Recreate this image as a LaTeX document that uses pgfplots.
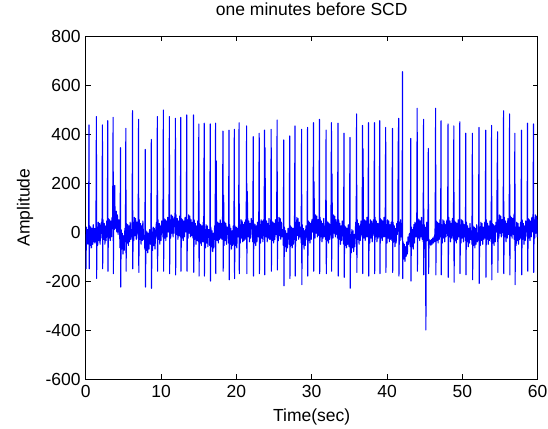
\documentclass[border=0pt]{standalone}
\usepackage{fontspec}
\setmainfont{Liberation Sans}
\usepackage{pgfplots}
\pgfplotsset{compat=1.18}
\definecolor{mblue}{rgb}{0,0,1}

\begin{document}
\begin{tikzpicture}
\path[use as bounding box] (0,0) rectangle (548bp,429bp);
\begin{axis}[
    at={(85.7bp,50bp)}, anchor=south west,
    width=452bp, height=343bp, scale only axis,
    xmin=0, xmax=60, ymin=-600, ymax=800,
    xtick={0,10,...,60}, ytick={-600,-400,...,800},
    tick align=inside, tick pos=both, major tick length=5bp,
    axis line style={black, line width=0.6bp},
    every tick/.style={black, line width=0.6bp},
    font=\fontsize{17.5bp}{21bp}\selectfont,
    /pgf/number format/assume math mode=true,
    xticklabel style={yshift=-3bp},
    yticklabel style={xshift=-1.5bp},
    title={one minutes before SCD},
    title style={at={(axis description cs:0.5,1.06)}, anchor=center},
    xlabel={Time(sec)},
    xlabel style={at={(axis description cs:0.5,-0.111)}, anchor=center},
    ylabel={Amplitude},
    every axis y label/.style={at={(axis description cs:-0.134,0.5)}, rotate=90, anchor=center},
]
% ECG trace, one beat per line
\addplot[mblue, line width=1.1bp, line join=round, mark=none] coordinates {
(0,-10) (0.04,-150) (0.10,20) (0.18,-50) (0.26,10)
(0.32,5) (0.38,-50) (0.44,437) (0.47,-150) (0.53,25) (0.61,-55) (0.69,20) (0.77,-65) (0.85,15) (0.93,-50) (1.01,30) (1.09,-40) (1.17,15) (1.24,-45)
(1.30,-30) (1.36,25) (1.42,471) (1.45,-190) (1.51,20) (1.59,-55) (1.67,40) (1.75,-35) (1.83,35) (1.91,-50) (1.99,20)
(2.10,40) (2.16,-25) (2.22,437) (2.25,-150) (2.31,50) (2.39,-30) (2.47,35) (2.55,-50) (2.63,25) (2.71,-35) (2.79,45)
(2.81,35) (2.87,-20) (2.93,454) (2.96,-160) (3.02,55) (3.10,-25) (3.18,50) (3.26,-35) (3.34,45) (3.42,-20) (3.50,60)
(3.52,20) (3.58,75) (3.64,468) (3.67,-170) (3.73,70) (3.79,10) (3.85,190) (3.90,60) (3.97,15) (4.05,85) (4.13,0) (4.21,70) (4.30,-10) (4.40,50)
(4.50,0) (4.56,-65) (4.62,344) (4.65,-225) (4.71,10) (4.79,-70) (4.87,-5) (4.95,-90) (5.03,-15) (5.11,-75) (5.19,5)
(5.21,15) (5.27,-40) (5.33,423) (5.36,-160) (5.42,35) (5.50,-45) (5.58,30) (5.66,-55) (5.74,25) (5.82,-40) (5.90,40) (6.00,-30)
(6.10,-10) (6.16,45) (6.22,495) (6.25,-150) (6.31,40) (6.39,-35) (6.47,60) (6.55,-15) (6.63,55) (6.71,-30) (6.79,40)
(6.90,40) (6.96,-25) (7.02,460) (7.05,-165) (7.11,50) (7.19,-30) (7.27,35) (7.35,-50) (7.43,25) (7.51,-35) (7.59,45) (7.69,-30)
(7.79,-15) (7.85,-70) (7.91,337) (7.94,-225) (8.00,5) (8.08,-75) (8.16,0) (8.24,-85) (8.32,-5) (8.40,-70) (8.48,10)
(8.59,-50) (8.65,5) (8.71,378) (8.74,-230) (8.80,0) (8.88,-75) (8.96,20) (9.04,-55) (9.12,15) (9.20,-70) (9.28,0)
(9.39,40) (9.45,-25) (9.51,471) (9.54,-160) (9.60,50) (9.68,-30) (9.76,35) (9.84,-50) (9.92,25) (10.00,-35) (10.08,45)
(10.19,35) (10.25,-20) (10.31,498) (10.34,-160) (10.40,55) (10.48,-25) (10.56,50) (10.64,-35) (10.72,45) (10.80,-20) (10.88,60)
(10.99,0) (11.05,55) (11.11,471) (11.14,-170) (11.20,50) (11.28,-25) (11.36,70) (11.44,-5) (11.52,65) (11.60,-20) (11.68,50)
(11.79,60) (11.85,-5) (11.91,464) (11.94,-175) (12.00,70) (12.08,-10) (12.16,55) (12.24,-30) (12.32,45) (12.40,-15) (12.48,65)
(12.50,35) (12.56,-20) (12.62,468) (12.65,-160) (12.71,55) (12.79,-25) (12.87,50) (12.95,-35) (13.03,45) (13.11,-20) (13.19,60)
(13.30,0) (13.36,55) (13.42,478) (13.45,-160) (13.51,50) (13.59,-25) (13.67,70) (13.75,-5) (13.83,65) (13.91,-20) (13.99,50) (14.09,-15)
(14.19,40) (14.25,-25) (14.31,478) (14.34,-165) (14.40,50) (14.48,-30) (14.56,35) (14.64,-50) (14.72,25) (14.80,-35) (14.88,45)
(14.90,15) (14.96,-40) (15.02,441) (15.05,-180) (15.11,35) (15.19,-45) (15.27,30) (15.35,-55) (15.43,25) (15.51,-40) (15.59,40)
(15.61,-40) (15.67,15) (15.73,444) (15.76,-180) (15.82,10) (15.90,-65) (15.98,30) (16.06,-45) (16.14,25) (16.22,-60) (16.30,10)
(16.41,10) (16.47,-55) (16.53,441) (16.56,-200) (16.62,20) (16.70,-60) (16.78,5) (16.86,-80) (16.94,-5) (17.02,-65) (17.10,15)
(17.12,25) (17.18,-30) (17.24,444) (17.27,-170) (17.33,290) (17.37,45) (17.45,-35) (17.53,40) (17.61,-45) (17.69,35) (17.77,-30) (17.85,50) (17.95,-25) (18.03,35)
(18.10,-30) (18.16,25) (18.22,412) (18.25,-160) (18.31,150) (18.37,-55) (18.45,40) (18.53,-35) (18.61,35) (18.69,-50) (18.77,20)
(18.90,20) (18.96,-45) (19.02,416) (19.05,-195) (19.11,30) (19.19,-50) (19.27,15) (19.35,-70) (19.43,5) (19.51,-55) (19.59,25)
(19.61,5) (19.67,-50) (19.73,419) (19.76,-190) (19.82,25) (19.90,-55) (19.98,20) (20.06,-65) (20.14,15)
(20.24,-20) (20.30,35) (20.36,446) (20.39,-170) (20.45,30) (20.53,-45) (20.61,50) (20.69,-25) (20.77,45) (20.85,-40) (20.93,30) (21.01,-35) (21.09,40) (21.17,-30)
(21.24,50) (21.30,-15) (21.36,433) (21.39,-170) (21.45,165) (21.50,60) (21.58,-20) (21.66,45) (21.74,-40) (21.82,35) (21.90,-25) (21.98,55)
(22.12,15) (22.18,-40) (22.24,389) (22.27,-180) (22.33,35) (22.41,-45) (22.49,30) (22.57,-55) (22.65,25) (22.73,-40) (22.81,40)
(22.91,-20) (22.97,35) (23.03,403) (23.06,-170) (23.12,30) (23.20,-45) (23.28,50) (23.36,-25) (23.44,45) (23.52,-40) (23.60,30)
(23.62,50) (23.68,-15) (23.74,416) (23.77,-175) (23.81,344) (23.85,60) (23.93,-20) (24.01,45) (24.09,-40) (24.17,35) (24.25,-25) (24.33,55) (24.42,-30)
(24.50,25) (24.56,-30) (24.62,419) (24.65,-160) (24.71,45) (24.79,-35) (24.87,40) (24.95,-45) (25.03,35) (25.11,-30) (25.19,50)
(25.29,-10) (25.35,45) (25.41,457) (25.44,-155) (25.50,40) (25.58,-35) (25.66,60) (25.74,-15) (25.82,55) (25.90,-30) (25.98,40) (26.06,-20)
(26.17,10) (26.23,-55) (26.29,376) (26.32,-220) (26.38,20) (26.46,-60) (26.54,5) (26.62,-80) (26.70,-5) (26.78,-65) (26.86,15)
(26.96,5) (27.02,-50) (27.08,392) (27.11,-190) (27.17,25) (27.25,-55) (27.33,20) (27.41,-65) (27.49,15) (27.57,-50)
(27.66,-10) (27.72,45) (27.78,433) (27.81,-180) (27.87,40) (27.95,-35) (28.03,60) (28.11,-15) (28.19,55) (28.27,-30) (28.35,40) (28.43,-20)
(28.54,20) (28.60,-45) (28.66,419) (28.69,-215) (28.75,30) (28.83,-50) (28.91,15) (28.99,-70) (29.07,5) (29.15,-55) (29.23,25)
(29.33,25) (29.39,-30) (29.45,427) (29.48,-180) (29.54,45) (29.62,-35) (29.70,40) (29.78,-45) (29.86,35) (29.94,-30) (30.02,50)
(30.12,0) (30.18,55) (30.24,446) (30.27,-160) (30.31,205) (30.36,50) (30.44,-25) (30.52,70) (30.60,-5) (30.68,65) (30.76,-20) (30.84,50)
(30.91,50) (30.97,-15) (31.03,460) (31.06,-170) (31.12,60) (31.20,-20) (31.28,45) (31.36,-40) (31.44,35) (31.52,-25) (31.60,55) (31.70,-20)
(31.79,25) (31.85,-30) (31.91,416) (31.94,-170) (32.00,45) (32.08,-35) (32.16,40) (32.24,-45) (32.32,35) (32.40,-30)
(32.50,0) (32.56,55) (32.62,446) (32.65,-160) (32.69,237) (32.74,50) (32.82,-25) (32.90,70) (32.98,-5) (33.06,65) (33.14,-20) (33.22,50) (33.30,-10)
(33.37,40) (33.43,-25) (33.49,444) (33.52,-180) (33.58,50) (33.66,-30) (33.74,35) (33.82,-50) (33.90,25) (33.98,-35) (34.06,45)
(34.17,5) (34.23,-50) (34.29,403) (34.32,-185) (34.38,25) (34.46,-55) (34.54,20) (34.62,-65) (34.70,15) (34.78,-50) (34.86,30)
(34.96,-60) (35.02,-5) (35.08,386) (35.11,-230) (35.17,-10) (35.25,-85) (35.33,10) (35.41,-65) (35.49,5) (35.57,-80) (35.65,-10) (35.73,-60)
(35.84,40) (35.90,-25) (35.96,482) (35.99,-165) (36.05,50) (36.13,-30) (36.21,35) (36.29,-50) (36.37,25) (36.45,-35) (36.53,45)
(36.63,35) (36.69,-20) (36.75,435) (36.78,-170) (36.82,340) (36.86,55) (36.94,-25) (37.02,50) (37.10,-35) (37.18,45) (37.26,-20) (37.34,60)
(37.42,-20) (37.48,35) (37.54,446) (37.57,-180) (37.63,30) (37.71,-45) (37.79,50) (37.87,-25) (37.95,45) (38.03,-40) (38.11,30)
(38.21,50) (38.27,-15) (38.33,446) (38.36,-170) (38.42,60) (38.50,-20) (38.58,45) (38.66,-40) (38.74,35) (38.82,-25)
(38.91,35) (38.97,-20) (39.03,454) (39.06,-170) (39.12,55) (39.20,-25) (39.28,50) (39.36,-35) (39.44,45) (39.52,-20) (39.60,60)
(39.70,-20) (39.76,35) (39.82,427) (39.85,-165) (39.91,30) (39.99,-45) (40.07,50) (40.15,-25) (40.23,45) (40.31,-40) (40.39,30) (40.47,-30) (40.55,40)
(40.60,30) (40.66,-35) (40.72,423) (40.75,-165) (40.81,40) (40.89,-40) (40.97,25) (41.05,-60) (41.13,15) (41.21,-45) (41.29,35)
(41.37,-10) (41.43,45) (41.49,360) (41.55,464) (41.58,-180) (41.64,40) (41.72,-35) (41.80,50) (41.88,-20)
(41.96,30) (42.00,-30) (42.05,654) (42.08,-190) (42.14,-40) (42.22,-110) (42.30,-50) (42.38,-120) (42.46,-60) (42.54,-100) (42.62,-40) (42.70,-90) (42.78,-20) (42.86,-50) (42.94,-10)
(43.03,-5) (43.09,-60) (43.15,382) (43.18,-200) (43.24,20) (43.32,-60) (43.40,10) (43.48,-70) (43.56,30) (43.64,-45) (43.72,40) (43.80,-20)
(43.88,35) (43.94,-20) (44.00,505) (44.03,-160) (44.09,55) (44.17,-25) (44.25,50) (44.33,-35) (44.41,45) (44.49,-20) (44.57,60)
(44.67,-30) (44.73,25) (44.79,-40) (44.85,460) (44.88,-175) (44.94,30) (45.02,-45) (45.10,20) (45.16,-400) (45.20,-30) (45.28,40) (45.36,-35) (45.44,60) (45.48,341) (45.52,-170)
(45.58,-30) (45.66,-50) (45.74,-35) (45.82,-55) (45.90,-30) (45.98,-50) (46.06,-25) (46.14,-45) (46.22,-20) (46.30,-40)
(46.39,25) (46.45,505) (46.48,-175) (46.54,45) (46.62,-35) (46.70,40) (46.78,-45) (46.86,35) (46.94,-30) (47.02,50)
(47.08,-20) (47.12,35) (47.17,454) (47.20,-175) (47.26,30) (47.34,-45) (47.42,50) (47.50,-25) (47.58,45) (47.66,-40) (47.74,30) (47.82,-20) (47.90,40)
(47.98,50) (48.04,-15) (48.10,441) (48.13,-185) (48.19,60) (48.27,-20) (48.35,45) (48.43,-40) (48.51,35) (48.59,-25) (48.67,55)
(48.75,25) (48.81,-30) (48.87,433) (48.90,-205) (48.96,45) (49.04,-35) (49.12,40) (49.20,-45) (49.28,35) (49.36,-30) (49.44,50)
(49.54,-20) (49.60,35) (49.66,450) (49.69,-170) (49.75,30) (49.83,-45) (49.91,50) (49.99,-25) (50.07,45) (50.15,-40) (50.23,30) (50.31,-20)
(50.37,30) (50.41,-35) (50.45,403) (50.48,-175) (50.54,40) (50.62,-40) (50.70,25) (50.78,-60) (50.86,15) (50.94,-45) (51.02,35) (51.10,-30)
(51.21,5) (51.27,-50) (51.33,403) (51.36,-195) (51.42,25) (51.50,-55) (51.58,20) (51.66,-65) (51.74,15) (51.82,-50) (51.90,30) (51.98,-40)
(52.09,-30) (52.15,25) (52.21,427) (52.24,-210) (52.30,20) (52.38,-55) (52.46,40) (52.54,-35) (52.62,35) (52.70,-50) (52.78,20) (52.86,-30)
(52.98,40) (53.04,-25) (53.10,416) (53.13,-185) (53.19,50) (53.27,-30) (53.35,35) (53.43,-50) (53.51,25) (53.59,-35) (53.67,45)
(53.76,15) (53.82,-40) (53.88,435) (53.91,-195) (53.97,35) (54.05,-45) (54.13,30) (54.21,-55) (54.29,25) (54.37,-40) (54.45,40)
(54.56,0) (54.62,233) (54.68,409) (54.71,-165) (54.77,50) (54.85,-25) (54.93,70) (55.01,-5) (55.09,65) (55.17,-20) (55.25,50)
(55.35,50) (55.41,-15) (55.47,495) (55.50,-170) (55.56,60) (55.64,-20) (55.72,45) (55.80,-40) (55.88,35) (55.96,-25) (56.04,55) (56.12,-10)
(56.15,45) (56.21,-10) (56.27,482) (56.30,-175) (56.36,65) (56.44,-15) (56.52,60) (56.60,-25) (56.68,55) (56.76,-10) (56.84,70)
(56.88,-30) (56.92,25) (56.97,403) (57.00,-215) (57.06,20) (57.14,-55) (57.22,40) (57.30,-35) (57.38,35) (57.46,-50) (57.54,20) (57.62,-30)
(57.73,40) (57.79,-25) (57.85,416) (57.88,-175) (57.94,50) (58.02,-30) (58.10,35) (58.18,-50) (58.26,25) (58.34,-35) (58.42,45)
(58.53,35) (58.59,-20) (58.65,444) (58.68,-160) (58.74,55) (58.82,-25) (58.90,50) (58.98,-35) (59.06,45) (59.14,-20) (59.22,60)
(59.32,0) (59.38,55) (59.44,441) (59.47,-165) (59.53,50) (59.61,-25) (59.69,70) (59.77,-5) (59.85,65) (59.93,-20) (60.00,50)
};
\end{axis}
\end{tikzpicture}
\end{document}
